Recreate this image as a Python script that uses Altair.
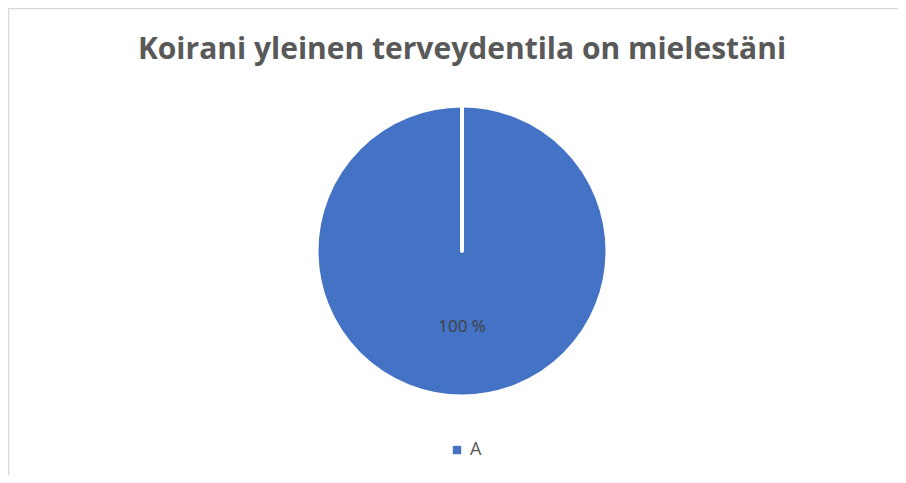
import altair as alt
import pandas as pd

categories = ["A"]
values = [100]
labels = ["100 %"]
title_text = "Koirani yleinen terveydentila on mielestäni"

df = pd.DataFrame({"cat": categories, "val": values, "label": labels})

W, H = 890, 467
CX, CY = 454, 243
R = 145

color = alt.Color("cat:N", scale=alt.Scale(domain=categories, range=["#4472C4"]), legend=None)

base = alt.Chart(df)

pie = base.mark_arc(radius=R, stroke="white", strokeWidth=3).encode(
    theta=alt.Theta("val:Q", stack=True),
    color=color,
    x=alt.value(CX), y=alt.value(CY),
)

# slice border (white separator from centre to the start angle)
sep = alt.Chart(pd.DataFrame({"a": [0]})).mark_rule(color="white", strokeWidth=4, strokeCap="round").encode(
    x=alt.value(CX), y=alt.value(CY - R - 2), y2=alt.value(CY)
)

lbl = base.mark_text(radius=76, fontSize=17, font="Open Sans", color="#404040").encode(
    theta=alt.Theta("val:Q", stack=True),
    text="label:N",
    x=alt.value(CX), y=alt.value(CY),
)

title = alt.Chart(pd.DataFrame({"t": [title_text]})).mark_text(
    fontSize=30, font="Open Sans", fontWeight="bold", color="#595959", baseline="alphabetic"
).encode(text="t:N", x=alt.value(CX), y=alt.value(51))

leg_sq = base.mark_square(size=70, opacity=1).encode(
    x=alt.value(CX - 5), y=alt.value(442), color=color
)
leg_tx = base.mark_text(align="left", baseline="middle", fontSize=18, font="Open Sans", color="#595959").encode(
    x=alt.value(CX + 8), y=alt.value(442), text="cat:N"
)

border_top = alt.Chart(pd.DataFrame({"a": [0]})).mark_rule(color="#D9D9D9", strokeWidth=1.5).encode(
    x=alt.value(0), x2=alt.value(W), y=alt.value(0.5)
)
border_left = alt.Chart(pd.DataFrame({"a": [0]})).mark_rule(color="#D9D9D9", strokeWidth=1.5).encode(
    x=alt.value(0.5), y=alt.value(0), y2=alt.value(H)
)

chart = alt.layer(border_top, border_left, title, pie, sep, lbl, leg_sq, leg_tx).properties(
    width=W, height=H, padding=0, autosize=alt.AutoSizeParams(type="none"), background="white"
).configure_view(stroke=None)

chart.save("out.html", embed_options={"renderer": "svg", "actions": False})
